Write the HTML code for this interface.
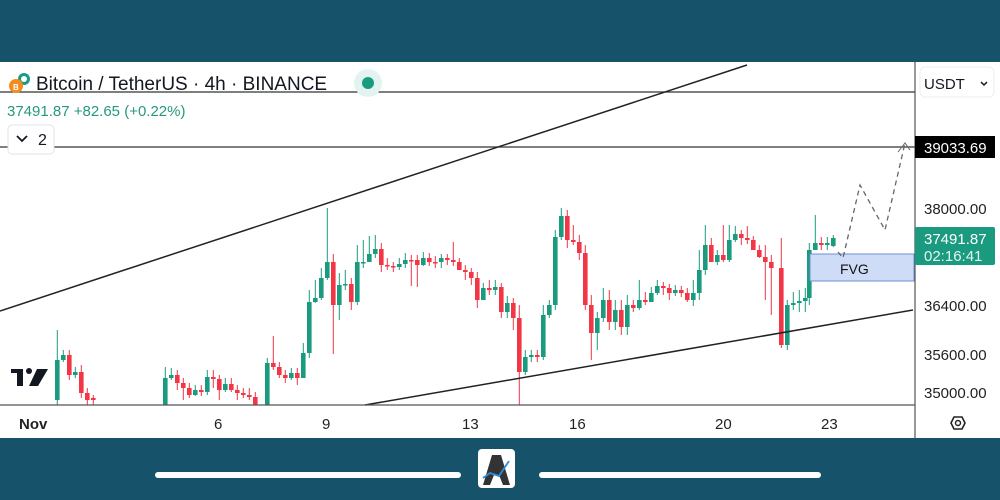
<!DOCTYPE html>
<html><head><meta charset="utf-8"><style>
html,body{margin:0;padding:0;width:1000px;height:500px;overflow:hidden;background:#fff;font-family:"Liberation Sans",sans-serif}
</style></head><body>
<svg width="1000" height="500" xmlns="http://www.w3.org/2000/svg" font-family="Liberation Sans, sans-serif">
<rect x="0" y="0" width="1000" height="62" fill="#16536b"/>
<rect x="0" y="62" width="1000" height="376" fill="#fff"/>
<g fill="#1a9b7f" stroke="#1a9b7f">
<path stroke-width="1" fill="none" d="M57.3 330V405M63.3 350V362M75.3 367V378M165.3 367V405M171.3 368V380M195.3 385V396M207.3 370V395M225.3 378V392M267.3 358V405M291.3 368V380M303.3 343V360M309.3 290V358M315.3 280V303M321.3 268V300M327.3 208V280M339.3 273V320M345.3 270V290M357.3 245V305M363.3 240V268M369.3 236V262M375.3 235V258M399.3 258V270M405.3 253V268M423.3 252V266M441.3 254V268M483.3 283V300M495.3 280V295M507.3 296V318M525.3 350V375M531.3 350V362M543.3 305V360M549.3 300V318M555.3 230V310M561.3 208V240M597.3 312V350M603.3 288V322M615.3 300V330M627.3 295V335M639.3 280V310M651.3 287V302M657.3 280V295M675.3 285V296M693.3 280V306M699.3 250V300M705.3 225V275M717.3 250V265M729.3 225V262M735.3 226V242M787.3 300V350M793.3 292V310M799.3 290V312M805.3 288V312M809.3 243V305M815.3 215V250M827.3 237V250M833.3 235V247"/>
<g stroke="none">
<rect x="55" y="360" width="4.6" height="40"/><rect x="61" y="355" width="4.6" height="5"/><rect x="73" y="372" width="4.6" height="3"/>
<rect x="163" y="378" width="4.6" height="27"/><rect x="169" y="375" width="4.6" height="3"/><rect x="193" y="390" width="4.6" height="5"/>
<rect x="205" y="377" width="4.6" height="15"/><rect x="223" y="384" width="4.6" height="6"/><rect x="265" y="363" width="4.6" height="42"/>
<rect x="289" y="373" width="4.6" height="5"/><rect x="301" y="353" width="4.6" height="25"/><rect x="307" y="302" width="4.6" height="51"/>
<rect x="313" y="298" width="4.6" height="4"/><rect x="319" y="278" width="4.6" height="20"/><rect x="325" y="262" width="4.6" height="16"/>
<rect x="337" y="285" width="4.6" height="20"/><rect x="343" y="284" width="4.6" height="1.5"/><rect x="355" y="262" width="4.6" height="40"/>
<rect x="361" y="262" width="4.6" height="1.5"/><rect x="367" y="254" width="4.6" height="8"/><rect x="373" y="249" width="4.6" height="5"/>
<rect x="397" y="264" width="4.6" height="3"/><rect x="403" y="260" width="4.6" height="4"/><rect x="421" y="258" width="4.6" height="7"/>
<rect x="439" y="258" width="4.6" height="4"/><rect x="481" y="288" width="4.6" height="12"/><rect x="493" y="287" width="4.6" height="3"/>
<rect x="505" y="303" width="4.6" height="9"/><rect x="523" y="357" width="4.6" height="15"/><rect x="529" y="355" width="4.6" height="2"/>
<rect x="541" y="315" width="4.6" height="42"/><rect x="547" y="305" width="4.6" height="10"/><rect x="553" y="237" width="4.6" height="68"/>
<rect x="559" y="216" width="4.6" height="21"/><rect x="595" y="318" width="4.6" height="15"/><rect x="601" y="300" width="4.6" height="18"/>
<rect x="613" y="310" width="4.6" height="12"/><rect x="625" y="305" width="4.6" height="22"/><rect x="637" y="300" width="4.6" height="8"/>
<rect x="649" y="293" width="4.6" height="9"/><rect x="655" y="286" width="4.6" height="7"/><rect x="673" y="290" width="4.6" height="3"/>
<rect x="691" y="293" width="4.6" height="7"/><rect x="697" y="270" width="4.6" height="23"/><rect x="703" y="245" width="4.6" height="25"/>
<rect x="715" y="255" width="4.6" height="7"/><rect x="727" y="240" width="4.6" height="20"/><rect x="733" y="234" width="4.6" height="6"/>
<rect x="785" y="305" width="4.6" height="40"/><rect x="791" y="303" width="4.6" height="2"/><rect x="797" y="301" width="4.6" height="2"/>
<rect x="803" y="298" width="4.6" height="3"/><rect x="807" y="250" width="4.6" height="48"/><rect x="813" y="243" width="4.6" height="7"/>
<rect x="825" y="243" width="4.6" height="2"/><rect x="831" y="238" width="4.6" height="8"/>
</g></g>
<g fill="#f23645" stroke="#f23645">
<path stroke-width="1" fill="none" d="M69.3 350V380M81.3 365V398M87.3 388V405M93.3 395V405M177.3 370V390M183.3 378V400M189.3 383V398M201.3 385V396M213.3 370V388M219.3 375V400M231.3 378V392M237.3 385V400M243.3 388V398M249.3 388V400M255.3 392V405M273.3 336V370M279.3 362V378M285.3 370V383M297.3 368V385M333.3 254V354M351.3 278V310M381.3 243V272M387.3 258V270M393.3 262V272M411.3 255V286M417.3 255V287M429.3 253V266M435.3 256V268M447.3 254V265M453.3 242V266M459.3 258V270M465.3 265V280M471.3 268V285M477.3 272V308M489.3 280V295M501.3 283V318M513.3 298V330M519.3 305V405M537.3 350V362M567.3 210V248M573.3 225V245M579.3 235V260M585.3 245V310M591.3 295V360M609.3 290V330M621.3 300V335M633.3 300V312M645.3 292V305M663.3 282V295M669.3 284V300M681.3 286V297M687.3 288V302M711.3 238V260M723.3 225V262M741.3 230V245M747.3 226V244M753.3 236V250M759.3 245V258M765.3 245V300M771.3 255V315M781.3 238V348M821.3 237V250"/>
<g stroke="none">
<rect x="67" y="355" width="4.6" height="20"/><rect x="79" y="372" width="4.6" height="21"/><rect x="85" y="393" width="4.6" height="7"/>
<rect x="91" y="398" width="4.6" height="2"/><rect x="175" y="375" width="4.6" height="8"/><rect x="181" y="383" width="4.6" height="5"/>
<rect x="187" y="388" width="4.6" height="7"/><rect x="199" y="390" width="4.6" height="2"/><rect x="211" y="377" width="4.6" height="2"/>
<rect x="217" y="379" width="4.6" height="11"/><rect x="229" y="384" width="4.6" height="6"/><rect x="235" y="390" width="4.6" height="3"/>
<rect x="241" y="393" width="4.6" height="2"/><rect x="247" y="395" width="4.6" height="2"/><rect x="253" y="397" width="4.6" height="8"/>
<rect x="271" y="363" width="4.6" height="4"/><rect x="277" y="367" width="4.6" height="8"/><rect x="283" y="375" width="4.6" height="3"/>
<rect x="295" y="373" width="4.6" height="5"/><rect x="331" y="262" width="4.6" height="43"/><rect x="349" y="284" width="4.6" height="18"/>
<rect x="379" y="249" width="4.6" height="16"/><rect x="385" y="265" width="4.6" height="1.5"/><rect x="391" y="266" width="4.6" height="1.5"/>
<rect x="409" y="260" width="4.6" height="1.5"/><rect x="415" y="260" width="4.6" height="5"/><rect x="427" y="258" width="4.6" height="4"/>
<rect x="433" y="262" width="4.6" height="1.5"/><rect x="445" y="258" width="4.6" height="2"/><rect x="451" y="260" width="4.6" height="2"/>
<rect x="457" y="262" width="4.6" height="8"/><rect x="463" y="270" width="4.6" height="2"/><rect x="469" y="272" width="4.6" height="6"/>
<rect x="475" y="278" width="4.6" height="22"/><rect x="487" y="288" width="4.6" height="2"/><rect x="499" y="287" width="4.6" height="25"/>
<rect x="511" y="303" width="4.6" height="15"/><rect x="517" y="318" width="4.6" height="54"/><rect x="535" y="355" width="4.6" height="2"/>
<rect x="565" y="216" width="4.6" height="24"/><rect x="571" y="240" width="4.6" height="2"/><rect x="577" y="242" width="4.6" height="11"/>
<rect x="583" y="253" width="4.6" height="52"/><rect x="589" y="305" width="4.6" height="28"/><rect x="607" y="300" width="4.6" height="22"/>
<rect x="619" y="310" width="4.6" height="17"/><rect x="631" y="305" width="4.6" height="3"/><rect x="643" y="300" width="4.6" height="2"/>
<rect x="661" y="286" width="4.6" height="2"/><rect x="667" y="288" width="4.6" height="5"/><rect x="679" y="290" width="4.6" height="3"/>
<rect x="685" y="293" width="4.6" height="7"/><rect x="709" y="245" width="4.6" height="17"/><rect x="721" y="255" width="4.6" height="5"/>
<rect x="739" y="234" width="4.6" height="4"/><rect x="745" y="238" width="4.6" height="2"/><rect x="751" y="240" width="4.6" height="10"/>
<rect x="757" y="250" width="4.6" height="7"/><rect x="763" y="257" width="4.6" height="5"/><rect x="769" y="262" width="4.6" height="6"/>
<rect x="779" y="268" width="4.6" height="77"/><rect x="819" y="243" width="4.6" height="2"/>
</g></g>
<line x1="0" y1="92" x2="915" y2="92" stroke="#333" stroke-width="1.2"/>
<line x1="0" y1="147" x2="915" y2="147" stroke="#333" stroke-width="1.2"/>
<line x1="0" y1="311" x2="747" y2="65" stroke="#222" stroke-width="1.5"/>
<line x1="365" y1="405" x2="913" y2="310" stroke="#222" stroke-width="1.5"/>
<rect x="810" y="254" width="104" height="27" fill="#cfdcf7" stroke="#6e8fd6" stroke-width="1"/>
<text x="840" y="274" font-size="14" fill="#111">FVG</text>
<polyline points="838,252 843,258 860,185 885,230 905,143" fill="none" stroke="#666" stroke-width="1.3" stroke-dasharray="5,4"/>
<polyline points="898,152 905,143 910,150" fill="none" stroke="#666" stroke-width="1"/>
<line x1="0" y1="405" x2="915" y2="405" stroke="#555" stroke-width="1.2"/>
<line x1="915" y1="62" x2="915" y2="438" stroke="#555" stroke-width="1.2"/>
<circle cx="24" cy="79" r="6" fill="#1c9b84"/><circle cx="24" cy="79" r="3" fill="#fff"/>
<circle cx="16" cy="86" r="7" fill="#f28c1c"/><text x="13" y="90" font-size="8" fill="#fff" font-weight="bold">B</text>
<text x="36" y="90" font-size="19" fill="#131722">Bitcoin / TetherUS · 4h · BINANCE</text>
<circle cx="368" cy="83" r="14" fill="#e3f4f0"/><circle cx="368" cy="83" r="6" fill="#1a9b7f"/>
<text x="7" y="116" font-size="15" fill="#26987e">37491.87  +82.65 (+0.22%)</text>
<rect x="8" y="125" width="46" height="29" rx="4" fill="#fff" stroke="#e0e3eb"/>
<polyline points="17,136 22,141 27,136" fill="none" stroke="#131722" stroke-width="1.8"/>
<text x="38" y="145" font-size="16" fill="#131722">2</text>
<rect x="920" y="67" width="74" height="30" rx="5" fill="#fff" stroke="#eee"/>
<text x="924" y="89" font-size="15" fill="#131722">USDT</text>
<polyline points="981,82 984,85 987,82" fill="none" stroke="#131722" stroke-width="1.5"/>
<rect x="915" y="136" width="80" height="22" fill="#000"/>
<text x="924" y="153" font-size="15" fill="#fff">39033.69</text>
<g font-size="15" fill="#222">
<text x="924" y="214">38000.00</text>
<text x="924" y="311">36400.00</text>
<text x="924" y="360">35600.00</text>
<text x="924" y="398">35000.00</text>
</g>
<rect x="915" y="227" width="80" height="38" rx="2" fill="#1a9b7f"/>
<text x="924" y="244" font-size="15" fill="#fff">37491.87</text>
<text x="924" y="261" font-size="15" fill="#e6f5f1">02:16:41</text>
<g font-size="15" fill="#222">
<text x="19" y="429" font-weight="bold">Nov</text>
<text x="214" y="429">6</text>
<text x="322" y="429">9</text>
<text x="462" y="429">13</text>
<text x="569" y="429">16</text>
<text x="715" y="429">20</text>
<text x="821" y="429">23</text>
</g>
<polygon points="951,423 954,417 962,417 965,423 962,429 954,429" fill="none" stroke="#222" stroke-width="1.6"/>
<circle cx="958" cy="423" r="2.5" fill="none" stroke="#222" stroke-width="1.4"/>
<rect x="11" y="369" width="12" height="4" fill="#131722"/><rect x="17" y="369" width="6" height="17" fill="#131722"/>
<circle cx="29" cy="371" r="3" fill="#131722"/><polygon points="37,369 48,369 38,386 29,386" fill="#131722"/>
<rect x="0" y="438" width="1000" height="62" fill="#16536b"/>
<line x1="158" y1="475" x2="458" y2="475" stroke="#fff" stroke-width="6" stroke-linecap="round"/>
<line x1="542" y1="475" x2="818" y2="475" stroke="#fff" stroke-width="6" stroke-linecap="round"/>
<rect x="478" y="449" width="37" height="39" rx="4" fill="#fff"/>
<polygon points="492,455 501,455 510,485 503,485 499,475 494,475 490,485 483,485" fill="#333"/>
<polyline points="483,478 490,473 499,476 509,461" fill="none" stroke="#2a8de0" stroke-width="1.8"/>
</svg>
</body></html>
